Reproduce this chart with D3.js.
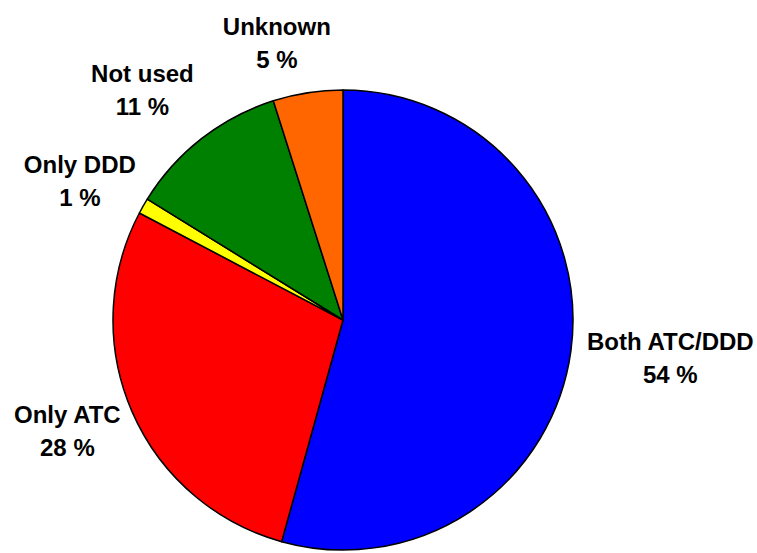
<!DOCTYPE html>
<html>
<head>
<meta charset="utf-8">
<script src="https://cdn.jsdelivr.net/npm/d3@7"></script>
<style>
  body { margin: 0; background: #fff; }
  text { font-family: "Liberation Sans", Arial, sans-serif; font-weight: bold; font-size: 24px; fill: #000; }
</style>
</head>
<body>
<div id="chart"></div>
<script>
// slice data, clockwise from 12 o'clock
const categories = ["Both ATC/DDD", "Only ATC", "Only DDD", "Not used", "Unknown"]
const shares = [54.3, 28.4, 1.1, 11.3, 4.9]
const pctLabels = ["54 %", "28 %", "1 %", "11 %", "5 %"]
const colors = ["#0000ff", "#ff0000", "#ffff00", "#008000", "#ff6600"]

const width = 757, height = 553
const cx = 343, cy = 320, radius = 230
const labelRadius = 247
// small hand nudges for the two crowded labels at the top
const labelNudge = [[0, 0], [0, 0], [0, 0], [-17, -9], [-20, 0]]

let svg = d3.select("#chart").append("svg")
    .attr("width", width)
    .attr("height", height)

let pie = d3.pie().sort(null).value(d => d)
let arcs = pie(shares)

let arc = d3.arc().innerRadius(0).outerRadius(radius)

let g = svg.append("g").attr("transform", `translate(${cx},${cy})`)

g.selectAll("path")
    .data(arcs).enter()
    .append("path")
    .attr("d", arc)
    .attr("fill", (d, i) => colors[i])
    .attr("stroke", "#000")
    .attr("stroke-width", 1.5)
    .attr("stroke-linejoin", "round")

// labels sit outside the pie, box pushed away from the anchor point on the mid angle
let labels = g.selectAll("g.lbl")
    .data(arcs).enter()
    .append("g")
    .attr("class", "lbl")

labels.each(function (d, i) {
    let el = d3.select(this)
    let t1 = el.append("text").attr("text-anchor", "middle").text(categories[i])
    let t2 = el.append("text").attr("text-anchor", "middle").attr("dy", 33).text(pctLabels[i])
    let w = Math.max(t1.node().getComputedTextLength(), t2.node().getComputedTextLength())
    let h = 66
    let a = (d.startAngle + d.endAngle) / 2
    let px = Math.sin(a) * labelRadius
    let py = -Math.cos(a) * labelRadius
    let bx = px + Math.sin(a) * w / 2 + labelNudge[i][0]
    let by = py - Math.cos(a) * h / 2 + labelNudge[i][1]
    el.attr("transform", `translate(${bx},${by - 8})`)
})
</script>
</body>
</html>
